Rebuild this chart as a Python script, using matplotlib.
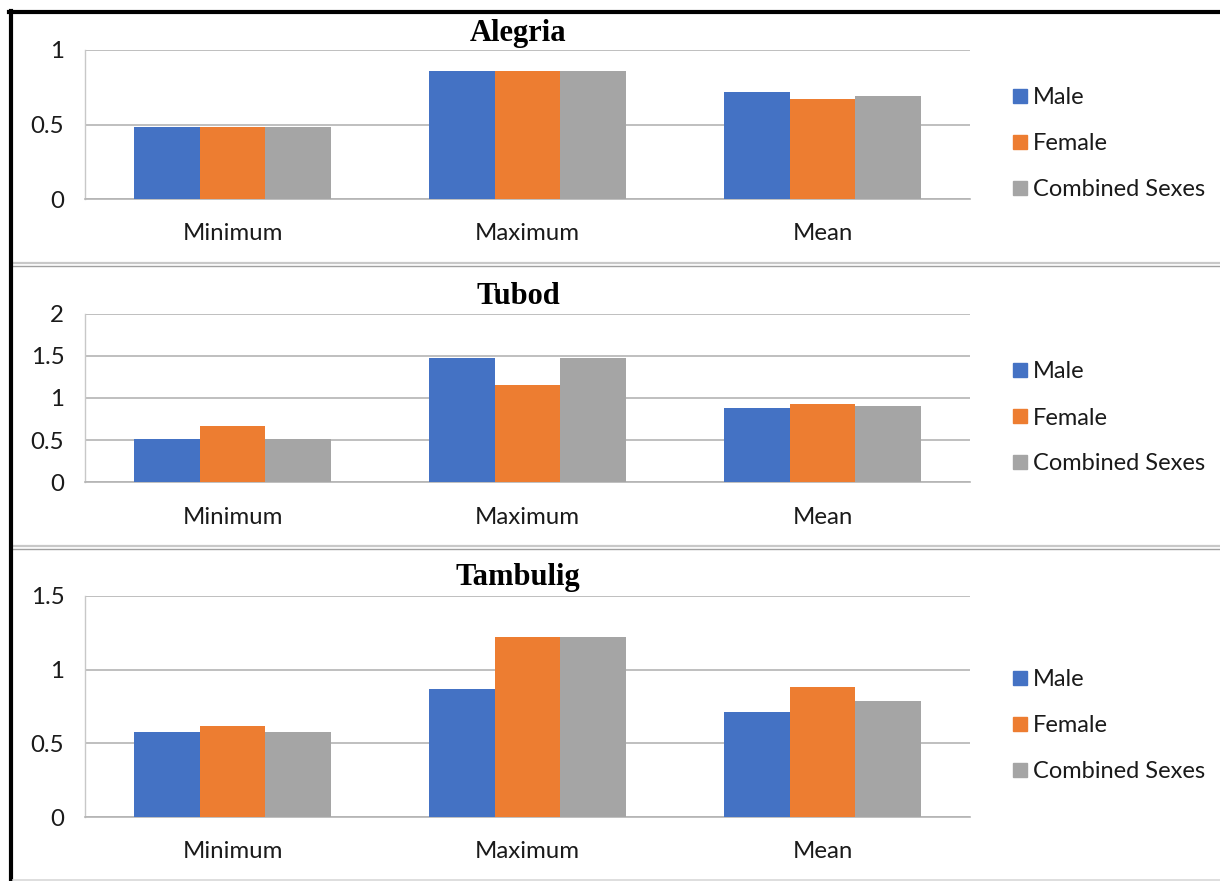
import matplotlib
matplotlib.use("Agg")
import matplotlib.pyplot as plt
from matplotlib.lines import Line2D
import numpy as np

# Data
categories = ["Minimum", "Maximum", "Mean"]
series_names = ["Male", "Female", "Combined Sexes"]
colors = ["#4472C4", "#ED7D31", "#A5A5A5"]

site_titles = ["Alegria", "Tubod", "Tambulig"]

alegria_male = [0.48, 0.86, 0.72]
alegria_female = [0.48, 0.86, 0.67]
alegria_combined = [0.48, 0.86, 0.69]

tubod_male = [0.51, 1.48, 0.88]
tubod_female = [0.67, 1.15, 0.93]
tubod_combined = [0.51, 1.48, 0.90]

tambulig_male = [0.58, 0.87, 0.71]
tambulig_female = [0.62, 1.22, 0.88]
tambulig_combined = [0.58, 1.22, 0.79]

alegria_ticks = [0, 0.5, 1]
tubod_ticks = [0, 0.5, 1, 1.5, 2]
tambulig_ticks = [0, 0.5, 1, 1.5]

panels = [
    (site_titles[0], [alegria_male, alegria_female, alegria_combined], alegria_ticks),
    (site_titles[1], [tubod_male, tubod_female, tubod_combined], tubod_ticks),
    (site_titles[2], [tambulig_male, tambulig_female, tambulig_combined], tambulig_ticks),
]

W, H = 1220, 881
fig = plt.figure(figsize=(W / 100, H / 100), dpi=100)
fig.patch.set_facecolor("white")

TICK_FONT = "Lato"
TITLE_FONT = "Liberation Serif"
TEXT_COL = "#1a1a1a"
TICK_SIZE = 17.3
LEGEND_SIZE = 17


def fx(x):
    return x / W


def fy(y):
    return 1 - y / H


# plot area boxes in pixels: left, right, top, bottom
boxes = [
    (85, 970, 50, 199),
    (85, 970, 314, 482),
    (85, 970, 596, 817),
]
title_y = [33, 296, 577]
legend_y = [(96, 142, 188), (370, 416, 462), (678, 724, 770)]
label_y = [234, 517, 852]

grid_col = "#B4B4B4"
n_cat = len(categories)
group_w = 2 / 3
bar_w = group_w / 3
x = np.arange(n_cat)

for (title, series, ticks), (l, r, t, b), ty, ly, xl in zip(panels, boxes, title_y, legend_y, label_y):
    ax = fig.add_axes([fx(l), fy(b), fx(r) - fx(l), fy(t) - fy(b)])
    for i, (vals, col) in enumerate(zip(series, colors)):
        ax.bar(x + (i - 1) * bar_w, vals, width=bar_w, color=col, zorder=3,
               label=series_names[i])
    ax.set_xlim(-0.5, n_cat - 0.5)
    ax.set_ylim(ticks[0], ticks[-1])
    ax.set_yticks(ticks)
    ax.set_yticklabels([f"{v:g}" for v in ticks], fontfamily=TICK_FONT,
                       fontsize=TICK_SIZE)
    ax.set_xticks(x)
    ax.set_xticklabels([])
    ax.tick_params(axis="both", length=0, pad=15, colors=TEXT_COL)
    ax.grid(axis="y", color=grid_col, linewidth=1.2, zorder=0)
    for s in ["top", "right"]:
        ax.spines[s].set_visible(False)
    ax.spines["bottom"].set_color(grid_col)
    ax.spines["bottom"].set_linewidth(1.2)
    ax.spines["left"].set_color("#C8C8C8")
    ax.spines["left"].set_linewidth(1.0)
    ax.set_facecolor("none")

    # category labels below each group
    for xi, cat in zip(x, categories):
        fig.text(fx(l + (r - l) * (xi + 0.5) / n_cat), fy(xl), cat,
                 ha="center", va="center", fontfamily=TICK_FONT,
                 fontsize=TICK_SIZE, color=TEXT_COL)

    fig.text(fx(518), fy(ty), title, ha="center", va="center",
             fontfamily=TITLE_FONT, fontweight="bold", fontsize=22, color="black")

    # legend on the right
    for name, col, yy in zip(series_names, colors, ly):
        fig.patches.append(plt.Rectangle((fx(1013), fy(yy + 7)), fx(14), 14 / H,
                                         transform=fig.transFigure, color=col,
                                         figure=fig))
        fig.text(fx(1033), fy(yy + 2), name, ha="left", va="center",
                 fontfamily=TICK_FONT, fontsize=LEGEND_SIZE, color=TEXT_COL)

# double separators between panels
for base in (263, 546):
    fig.add_artist(Line2D([fx(13), 1], [fy(base), fy(base)], color="#C8C8C8", lw=1.6))
    fig.add_artist(Line2D([fx(13), 1], [fy(base + 3), fy(base + 3)], color="#A0A0A0", lw=1.0))

# outer frame
fig.add_artist(Line2D([fx(9), 1], [fy(12), fy(12)], color="black", lw=3))
fig.add_artist(Line2D([fx(11), fx(11)], [fy(10.5), 0], color="black", lw=3))
fig.add_artist(Line2D([fx(13), 1], [fy(880), fy(880)], color="#D8D8D8", lw=1.2))

fig.savefig("out.png", dpi=100, facecolor="white")
